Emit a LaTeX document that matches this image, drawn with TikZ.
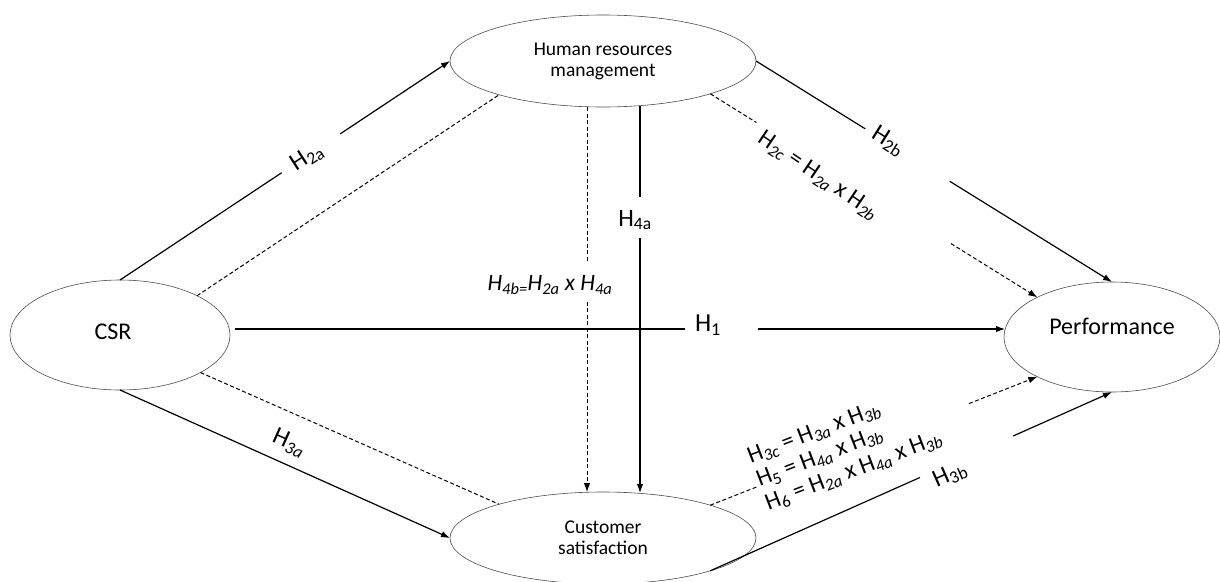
\documentclass[tikz,border=0pt]{standalone}
\usepackage{fontspec}
\setmainfont{Carlito}
\usetikzlibrary{shapes.geometric,arrows.meta,calc}
\tikzset{
  construct/.style={ellipse,draw=black!70,line width=0.6pt,inner sep=0pt,outer sep=0pt,align=center},
  direct/.style={line width=1.2pt},
  mediated/.style={line width=1pt,dash pattern=on 4pt off 2.5pt},
  arr/.style={-{Latex[length=9pt,width=6.5pt]}},
  hyp/.style={font=\fontsize{25}{26}\selectfont,inner sep=1pt},
}
\begin{document}
\begin{tikzpicture}[x=1pt,y=-1pt]
\useasboundingbox (0,0) rectangle (1220,581);
% constructs
\node[construct,minimum width=220pt,minimum height=110pt,
  label={[font=\fontsize{24}{28}\selectfont,xshift=-7pt,yshift=3pt]center:CSR}] (csr) at (120,335) {};
\node[construct,minimum width=306pt,minimum height=92pt,font=\fontsize{19.5}{21}\selectfont] (hrm) at (603,61) {Human resources\\management};
\node[construct,minimum width=306pt,minimum height=92pt,font=\fontsize{19.5}{21}\selectfont] (cs) at (603,538) {Customer\\satisfaction};
\node[construct,minimum width=216pt,minimum height=110pt,
  label={[font=\fontsize{24}{28}\selectfont,yshift=11pt]center:Performance}] (perf) at (1112,337) {};
\coordinate (h1s) at (235,329);
\coordinate (h1e) at (1005,329);
\coordinate (d4t) at (587,107);
\coordinate (d4b) at (587,492);
\coordinate (s4t) at (640,106);
\coordinate (s4b) at (640,493);
% direct paths
\draw[direct] (csr.north) -- ($(csr.north)!0.49!(hrm.west)$);
\draw[direct,arr] ($(csr.north)!0.667!(hrm.west)$) -- (hrm.west);
\draw[direct] (hrm.east) -- ($(hrm.east)!0.307!(perf.north)$);
\draw[direct,arr] ($(hrm.east)!0.544!(perf.north)$) -- (perf.north);
\draw[direct] (h1s) -- ($(h1s)!0.584!(h1e)$);
\draw[direct,arr] ($(h1s)!0.679!(h1e)$) -- (h1e);
\draw[direct,arr] (csr.south) -- (cs.west);
\draw[direct] (cs.-17) -- ($(cs.-17)!0.522!(perf.south)$);
\draw[direct,arr] ($(cs.-17)!0.754!(perf.south)$) -- (perf.south);
\draw[direct] (s4t) -- ($(s4t)!0.236!(s4b)$);
\draw[direct,arr] ($(s4t)!0.341!(s4b)$) -- (s4b);
% mediated paths
\draw[mediated] (csr.27.5) -- (hrm.198);
\draw[mediated] (csr.-25.4) -- (cs.162.7);
\draw[mediated] (hrm.-17) -- ($(hrm.-17)!0.141!(perf.152.5)$);
\draw[mediated,arr] ($(hrm.-17)!0.736!(perf.152.5)$) -- (perf.152.5);
\draw[mediated] (cs.17) -- ($(cs.17)!0.147!(perf.-152.5)$);
\draw[mediated,arr] ($(cs.17)!0.791!(perf.-152.5)$) -- (perf.-152.5);
\draw[mediated] (d4t) -- ($(d4t)!0.404!(d4b)$);
\draw[mediated,arr] ($(d4t)!0.506!(d4b)$) -- (d4b);
% hypotheses
\node[hyp,rotate=33] (h2a) at (307,157) {H\textsubscript{2a}};
\node[hyp,rotate=-32] (h2b) at (888,141) {H\textsubscript{2b}};
\node[hyp,rotate=-34,font=\fontsize{24}{26}\selectfont] (h2c) at (818,176) {H\textsubscript{\textit{2c}} = H\textsubscript{\textit{2a}} x H\textsubscript{\textit{2b}}};
\node[hyp,font=\fontsize{26}{28}\selectfont] (h1) at (708,325) {H\textsubscript{1}};
\node[hyp] (h4a) at (635,220) {H\textsubscript{4a}};
\node[hyp,font=\fontsize{23.5}{26}\itshape] (h4b) at (550,285) {H\textsubscript{4b=}H\textsubscript{2a} x H\textsubscript{4a}};
\node[hyp,rotate=-24] (h3a) at (289,443) {H\textsubscript{\textit{3a}}};
\node[hyp,rotate=24] (h3b) at (950,475) {H\textsubscript{3b}};
\node[hyp,rotate=21,align=left,font=\fontsize{24}{25}\selectfont] (h3c) at (845,448) {H\textsubscript{\textit{3c}} = H\textsubscript{\textit{3a}} x H\textsubscript{\textit{3b}}\\
H\textsubscript{5} = H\textsubscript{\textit{4a}} x H\textsubscript{\textit{3b}}\\
H\textsubscript{6} = H\textsubscript{\textit{2a}} x H\textsubscript{\textit{4a}} x H\textsubscript{\textit{3b}}};
\end{tikzpicture}
\end{document}
